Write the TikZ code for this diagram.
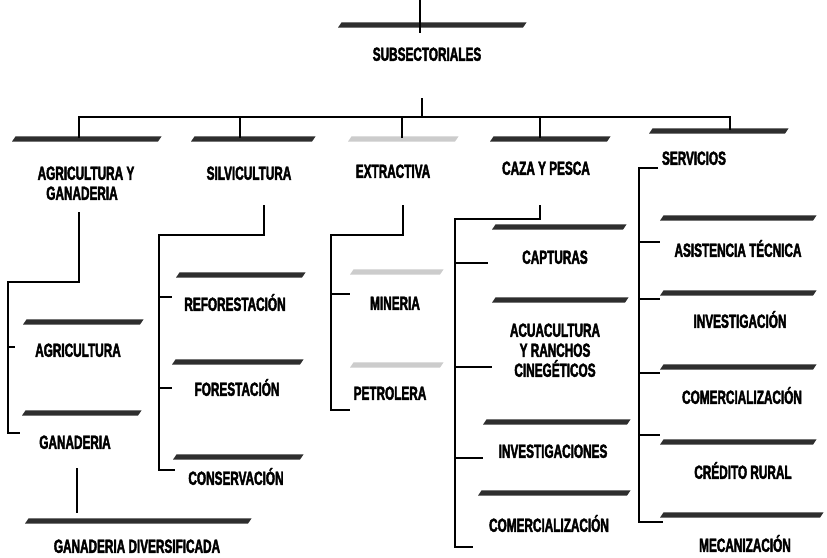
\documentclass[tikz,border=0pt]{standalone}
\usepackage{fontspec}
\newfontfamily\lblfont{Liberation Sans}[FakeStretch=0.62, BoldFeatures={FakeBold=2.2}]
\newcommand\smear[4][smear]{\fill[#1] (#2,#4+2.6) -- (#2+3.5,#4-2.6) -- (#3+3.5,#4-2.6) -- (#3,#4+2.6) -- cycle;}
\tikzset{
  lbl/.style={font=\lblfont\bfseries\fontsize{19}{22}\selectfont, inner sep=0pt, text height=13.6pt, text depth=0pt, anchor=center},
  smear/.style={fill=black!82},
  faintsmear/.style={fill=black!20},
  wire/.style={draw=black, line width=1.2pt, line cap=butt, line join=miter},
}
\begin{document}
\begin{tikzpicture}[x=1pt,y=-1pt]
\useasboundingbox[fill=white] (0,0) rectangle (827,557);

% ---- label nodes ----
\node[lbl] (sub) at (427,54) {SUBSECTORIALES};
\node[lbl] (agri1) at (86,173) {AGRICULTURA Y};
\node[lbl] (agri2) at (82,193) {GANADERIA};
\node[lbl] (silv) at (249,173) {SILVICULTURA};
\node[lbl] (extr) at (393,171) {EXTRACTIVA};
\node[lbl] (caza) at (546,168) {CAZA Y PESCA};
\node[lbl] (serv) at (694,158) {SERVICIOS};

\node[lbl] (agr) at (78,350) {AGRICULTURA};
\node[lbl] (gan) at (75,442) {GANADERIA};
\node[lbl] (gandiv) at (137,546) {GANADERIA DIVERSIFICADA};

\node[lbl] (refo) at (235,304) {REFORESTACIÓN};
\node[lbl] (fore) at (237,389) {FORESTACIÓN};
\node[lbl] (cons) at (236,478) {CONSERVACIÓN};

\node[lbl] (mine) at (395,303) {MINERIA};
\node[lbl] (petr) at (390,393) {PETROLERA};

\node[lbl] (capt) at (555,257) {CAPTURAS};
\node[lbl] (acua1) at (555,330) {ACUACULTURA};
\node[lbl] (acua2) at (555,350) {Y RANCHOS};
\node[lbl] (acua3) at (555,370) {CINEGÉTICOS};
\node[lbl] (inves) at (553,451) {INVESTIGACIONES};
\node[lbl] (comc) at (549,525) {COMERCIALIZACIÓN};

\node[lbl] (asis) at (738,250) {ASISTENCIA TÉCNICA};
\node[lbl] (invs) at (740,321) {INVESTIGACIÓN};
\node[lbl] (coms) at (742,397) {COMERCIALIZACIÓN};
\node[lbl] (cred) at (743,472) {CRÉDITO RURAL};
\node[lbl] (meca) at (745,545) {MECANIZACIÓN};

% ---- smeared title bars ----
\smear{338}{523}{25}
\smear{12}{158}{139}
\smear{191}{312}{139}
\smear[faintsmear]{348}{455}{139}
\smear{490}{607}{139}
\smear{649}{785}{131}
\smear{23}{140}{322}
\smear{22}{138}{413}
\smear{25}{248}{521}
\smear{176}{302}{275}
\smear{172}{300}{362}
\smear{173}{300}{457}
\smear[faintsmear]{350}{440}{272}
\smear[faintsmear]{350}{440}{365}
\smear{492}{623}{227}
\smear{492}{625}{300}
\smear{483}{627}{422}
\smear{478}{627}{493}
\smear{660}{813}{218}
\smear{660}{813}{293}
\smear{660}{813}{367}
\smear{660}{813}{442}
\smear{660}{820}{515}

% ---- coordinates ----
\coordinate (topin) at (420,0);
\coordinate (topout) at (420,33);
\coordinate (subdn) at (422,98);
\coordinate (bus) at (422,117);
\coordinate (busL) at (79,117);
\coordinate (busR) at (730,117);
\coordinate (dA) at (79,138);
\coordinate (dS) at (240,117);
\coordinate (dSe) at (240,138);
\coordinate (dE) at (402,117);
\coordinate (dEe) at (402,138);
\coordinate (dC) at (540,117);
\coordinate (dCe) at (540,138);
\coordinate (dV) at (730,130);

% ---- connectors ----
\draw[wire] (topin) -- (topout);
\draw[wire] (subdn) -- (bus);
\draw[wire] (dA) -- (busL) -- (busR) -- (dV);
\draw[wire] (dS) -- (dSe);
\draw[wire] (dE) -- (dEe);
\draw[wire] (dC) -- (dCe);

% agricultura y ganaderia
\coordinate (a0) at (79,212);
\coordinate (a1) at (8,282);
\coordinate (aT) at (15,347);
\coordinate (aB) at (20,433);
\draw[wire] (a0) -- (79,282) -- (a1) |- (aB);
\draw[wire] (8,347) -- (aT);
\coordinate (g0) at (77,468);
\coordinate (g1) at (77,513);
\draw[wire] (g0) -- (g1);

% silvicultura
\coordinate (s0) at (264,205);
\coordinate (s1) at (159,235);
\coordinate (sB) at (175,470);
\draw[wire] (s0) |- (s1) |- (sB);
\draw[wire] (159,297) -- (172,297);
\draw[wire] (159,388) -- (172,388);

% extractiva
\coordinate (e0) at (403,205);
\coordinate (e1) at (331,235);
\coordinate (eB) at (350,410);
\draw[wire] (e0) |- (e1) |- (eB);
\draw[wire] (331,294) -- (350,294);

% caza y pesca
\coordinate (c0) at (540,205);
\coordinate (c1) at (455,219);
\coordinate (cB) at (473,547);
\draw[wire] (c0) |- (c1) |- (cB);
\draw[wire] (455,263) -- (488,263);
\draw[wire] (455,367) -- (492,367);
\draw[wire] (455,458) -- (483,458);

% servicios
\coordinate (v0) at (658,168);
\coordinate (v1) at (639,168);
\coordinate (vB) at (663,522);
\draw[wire] (v0) -- (v1) |- (vB);
\draw[wire] (639,242) -- (660,242);
\draw[wire] (639,299) -- (660,299);
\draw[wire] (639,373) -- (660,373);
\draw[wire] (639,435) -- (660,435);
\end{tikzpicture}
\end{document}
